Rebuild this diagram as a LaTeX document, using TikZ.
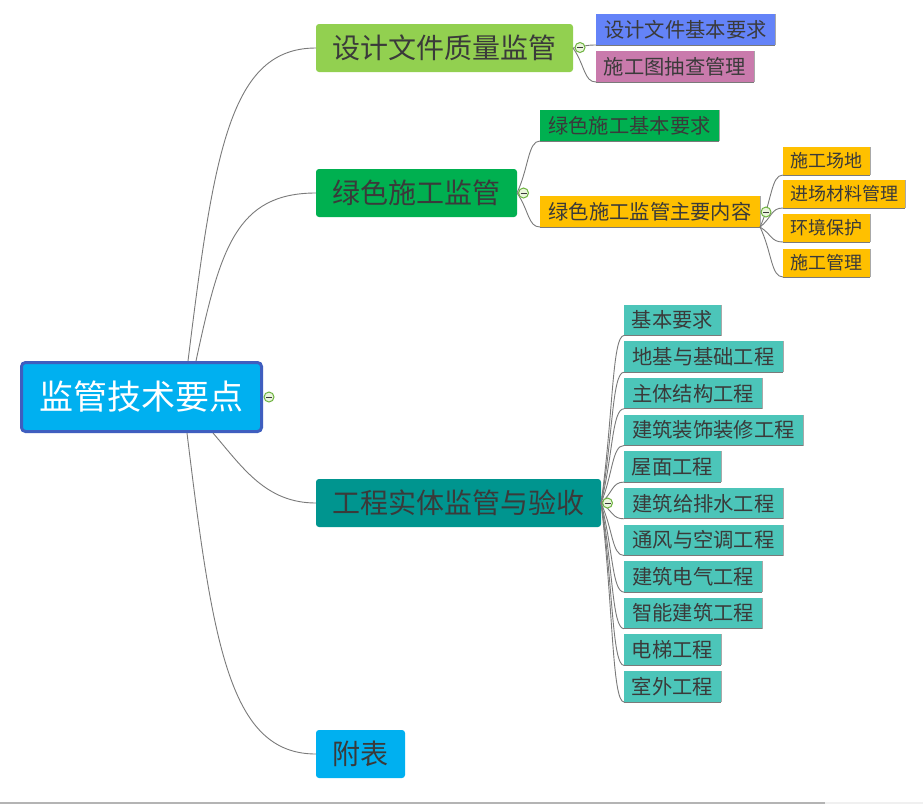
\documentclass[tikz,border=0pt]{standalone}
\usepackage{fontspec}
\setmainfont{Noto Sans CJK SC}
\usetikzlibrary{calc}
\definecolor{rootfill}{HTML}{00B0F0}
\definecolor{rootdraw}{HTML}{3F5EBF}
\definecolor{txt}{HTML}{3A3A3A}
\definecolor{linkgray}{HTML}{7A7A7A}
\definecolor{edgegray}{HTML}{A8A8A8}
\definecolor{cA}{HTML}{92D050}
\definecolor{cAa}{HTML}{6483F8}
\definecolor{cAb}{HTML}{C97AAC}
\definecolor{cB}{HTML}{00B050}
\definecolor{cBb}{HTML}{FFC000}
\definecolor{cC}{HTML}{00958F}
\definecolor{cCc}{HTML}{4CC5B9}
\definecolor{cD}{HTML}{00B0F0}
\definecolor{tgreen}{HTML}{6DB33F}
\definecolor{tfill}{HTML}{EAF5DC}
\definecolor{botline}{HTML}{B4B4B4}
\definecolor{botlight}{HTML}{F0F0F0}
\begin{document}
\begin{tikzpicture}[x=1pt,y=-1pt,
  box/.style={inner sep=0pt, outer sep=0pt, text=txt, align=center},
  rootbox/.style={box, rounded corners=4pt, draw=rootdraw, line width=3pt, fill=rootfill,
    text=white, minimum width=240, minimum height=69, font=\fontsize{34}{36}\selectfont},
  branch/.style={box, rounded corners=3pt, minimum height=48, font=\fontsize{28}{30}\selectfont},
  leaf/.style={box, minimum height=31, font=\fontsize{20.3}{22}\selectfont},
  small/.style={box, minimum height=28, font=\fontsize{18}{20}\selectfont},
  link/.style={draw=linkgray, line width=0.9pt},
  edge/.style={draw=edgegray, line width=0.8pt},
  kid/.style={to path={let \p1=(\tikztostart), \p2=(\tikztotarget) in
     .. controls ({\x1+12pt},{0.5*\y1+0.5*\y2}) and ({\x2-12pt},\y2) .. (\tikztotarget)}},
  toggle/.style={circle, minimum size=10, inner sep=0pt, draw=tgreen, fill=tfill, line width=1pt,
    path picture={\draw[txt, line width=1pt]
      ([xshift=-3pt]path picture bounding box.center) -- ([xshift=3pt]path picture bounding box.center);}}
]
\useasboundingbox (0,0) rectangle (923,804);
\fill[white] (0,0) rectangle (923,804);
\fill[botline] (0,802.3) rectangle (825,804);
\fill[botlight] (825,802.3) rectangle (923,804);

% root
\node[rootbox] (root) at (141.5,397) {监管技术要点};

% main branches
\node[branch, fill=cA, minimum width=257] (b1) at (444.5,48) {设计文件质量监管};
\node[branch, fill=cB, minimum width=201] (b2) at (416.5,193) {绿色施工监管};
\node[branch, fill=cC, minimum width=285] (b3) at (458.5,503) {工程实体监管与验收};
\node[branch, fill=cD, minimum width=89] (b4) at (360.5,754) {附表};

% branch 1 children
\node[leaf, fill=cAa, minimum width=179] (k11) at (685.5,29.5) {设计文件基本要求};
\node[leaf, fill=cAb, minimum width=158] (k12) at (675,66.5) {施工图抽查管理};

% branch 2 children
\node[leaf, fill=cB, minimum width=179] (k21) at (629.5,125.5) {绿色施工基本要求};
\node[leaf, fill=cBb, minimum width=220] (k22) at (650,211.5) {绿色施工监管主要内容};
\node[small, fill=cBb, minimum width=87] (k31) at (826.5,161) {施工场地};
\node[small, fill=cBb, minimum width=122] (k32) at (844,194) {进场材料管理};
\node[small, fill=cBb, minimum width=87] (k33) at (826.5,228) {环境保护};
\node[small, fill=cBb, minimum width=87] (k34) at (826.5,263) {施工管理};

% branch 3 children
\node[leaf, fill=cCc, minimum width=97]  (k41) at (672.5,320) {基本要求};
\node[leaf, fill=cCc, minimum width=159] (k42) at (703.5,356.7) {地基与基础工程};
\node[leaf, fill=cCc, minimum width=138] (k43) at (693,393.3) {主体结构工程};
\node[leaf, fill=cCc, minimum width=179] (k44) at (713.5,430) {建筑装饰装修工程};
\node[leaf, fill=cCc, minimum width=97]  (k45) at (672.5,466.6) {屋面工程};
\node[leaf, fill=cCc, minimum width=159] (k46) at (703.5,503.3) {建筑给排水工程};
\node[leaf, fill=cCc, minimum width=159] (k47) at (703.5,540) {通风与空调工程};
\node[leaf, fill=cCc, minimum width=138] (k48) at (693,576.6) {建筑电气工程};
\node[leaf, fill=cCc, minimum width=138] (k49) at (693,613.2) {智能建筑工程};
\node[leaf, fill=cCc, minimum width=97]  (k410) at (672.5,649.9) {电梯工程};
\node[leaf, fill=cCc, minimum width=97]  (k411) at (672.5,686.5) {室外工程};

% underline and right edge of sub-topics
\foreach \v in {k11,k12,k21,k22,k31,k32,k33,k34,k41,k42,k43,k44,k45,k46,k47,k48,k49,k410,k411}{
  \draw[edge] (\v.south east) -- (\v.north east);
  \draw[link] (\v.south west) -- (\v.south east);
}

% root connectors
\coordinate (r1) at (188,361);
\coordinate (r2) at (196,361);
\coordinate (r3) at (213,433);
\coordinate (r4) at (187,433);
\draw[link] (r1) .. controls +(26,-210) and +(-86,0) .. (b1.west);
\draw[link] (r2) .. controls +(24,-112) and +(-80,0) .. (b2.west);
\draw[link] (r3) .. controls +(30,35) and +(-50,0) .. (b3.west);
\draw[link] (r4) .. controls +(26,214) and +(-86,0) .. (b4.west);

% sub connectors
\draw[link] (b1.east) to[kid] (k11.south west);
\draw[link] (b1.east) to[kid] (k12.south west);
\draw[link] (b2.east) to[kid] (k21.south west);
\draw[link] (b2.east) to[kid] (k22.south west);
\foreach \v in {k31,k32,k33,k34}{
  \draw[link] (k22.south east) to[kid] (\v.south west);
}
\foreach \v in {k41,k42,k43,k44,k45,k46,k47,k48,k49,k410,k411}{
  \draw[link] (b3.east) to[kid] (\v.south west);
}

% collapse toggles
\node[toggle] (t0) at (269,397) {};
\node[toggle] (t1) at (580,47.5) {};
\node[toggle] (t2) at (523.5,193) {};
\node[toggle] (t3) at (766,212) {};
\node[toggle] (t4) at (607.5,503) {};
\end{tikzpicture}
\end{document}
